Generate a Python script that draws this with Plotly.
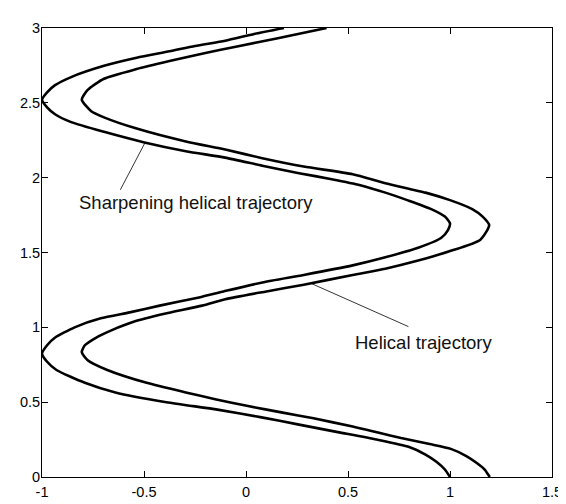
import plotly.graph_objects as go

# Sharpening helical trajectory (reaches x=1 at y=0, min x=-1)
sharp_y = [0.00, 0.05, 0.10, 0.15, 0.20, 0.25, 0.30, 0.35, 0.40, 0.45, 0.50, 0.565, 0.63, 0.715, 0.77, 0.823,
           0.88, 0.93, 1.00, 1.06, 1.10, 1.145, 1.20, 1.24, 1.30, 1.35, 1.414, 1.468, 1.532, 1.597, 1.65, 1.694,
           1.74, 1.79, 1.85, 1.90, 1.95, 1.99, 2.03, 2.08, 2.134, 2.177, 2.237, 2.306, 2.371, 2.424, 2.47, 2.521,
           2.57, 2.618, 2.672, 2.747, 2.801, 2.844, 2.88, 2.915, 2.96, 3.00]
sharp_x = [1.000, 0.975, 0.935, 0.880, 0.800, 0.640, 0.450, 0.260, 0.070, -0.140, -0.390, -0.640, -0.790, -0.929, -0.975, -1.000,
           -0.975, -0.937, -0.840, -0.712, -0.570, -0.423, -0.230, -0.110, 0.080, 0.283, 0.523, 0.683, 0.844, 0.956, 0.990, 1.000,
           0.975, 0.908, 0.790, 0.683, 0.560, 0.420, 0.260, 0.080, -0.102, -0.295, -0.503, -0.696, -0.857, -0.936, -0.975, -1.000,
           -0.975, -0.936, -0.857, -0.696, -0.536, -0.375, -0.250, -0.102, 0.040, 0.186]

# Helical trajectory (reaches x=1.2 at y=0, min x=-0.8)
helical_y = [0.00, 0.05, 0.092, 0.14, 0.188, 0.22, 0.26, 0.295, 0.337, 0.392, 0.43, 0.474, 0.52, 0.565, 0.629, 0.715,
             0.78, 0.834, 0.88, 0.93, 0.98, 1.037, 1.09, 1.145, 1.188, 1.24, 1.285, 1.35, 1.392, 1.446, 1.511, 1.586,
             1.683, 1.74, 1.79, 1.85, 1.90, 1.963, 2.023, 2.074, 2.13, 2.188, 2.242, 2.328, 2.403, 2.446, 2.521,
             2.586, 2.661, 2.726, 2.779, 2.833, 2.875, 2.93, 3.00]
helical_x = [1.195, 1.170, 1.133, 1.080, 1.004, 0.900, 0.760, 0.652, 0.523, 0.331, 0.180, 0.010, -0.151, -0.295, -0.487, -0.680,
             -0.776, -0.805, -0.790, -0.736, -0.660, -0.551, -0.400, -0.215, -0.102, 0.100, 0.283, 0.523, 0.683, 0.844, 1.004, 1.149,
             1.192, 1.160, 1.109, 1.000, 0.880, 0.683, 0.523, 0.283, 0.080, -0.102, -0.295, -0.536, -0.696, -0.760, -0.805,
             -0.776, -0.696, -0.536, -0.375, -0.199, -0.050, 0.150, 0.395]

x_ticks = [-1, -0.5, 0, 0.5, 1, 1.5]
x_tick_labels = ["-1", "-0.5", "0", "0.5", "1", "1.5"]
y_ticks = [0, 0.5, 1, 1.5, 2, 2.5, 3]
y_tick_labels = ["0", "0.5", "1", "1.5", "2", "2.5", "3"]

labels = ["Sharpening helical trajectory", "Helical trajectory"]
label_pos_x = [-0.245, 0.869]
label_pos_y = [1.834, 0.898]
pointer_from = [(-0.616, 1.919), (0.796, 1.005)]
pointer_to = [(-0.496, 2.231), (0.315, 1.296)]

FONT = "Liberation Sans, Arial, sans-serif"

fig = go.Figure()
fig.add_trace(go.Scatter(x=sharp_x, y=sharp_y, mode="lines", name=labels[0],
                         line=dict(color="black", width=2.6, shape="spline", smoothing=0.6)))
fig.add_trace(go.Scatter(x=helical_x, y=helical_y, mode="lines", name=labels[1],
                         line=dict(color="black", width=2.6, shape="spline", smoothing=0.6)))

for (x0, y0), (x1, y1) in zip(pointer_from, pointer_to):
    fig.add_trace(go.Scatter(x=[x0, x1], y=[y0, y1], mode="lines", showlegend=False,
                             line=dict(color="black", width=0.8)))

for t, lx, ly in zip(labels, label_pos_x, label_pos_y):
    fig.add_annotation(x=lx, y=ly, text=t, showarrow=False,
                       font=dict(family=FONT, size=18.5, color="#111111"))

axis_common = dict(showgrid=False, zeroline=False, showline=True, linecolor="black", linewidth=1,
                   mirror="ticks", ticks="inside", ticklen=6, tickcolor="black", tickwidth=1,
                   tickfont=dict(family=FONT, size=14.5, color="black"))
fig.update_xaxes(range=[-1, 1.5], tickvals=x_ticks, ticktext=x_tick_labels, ticklabelstandoff=2, **axis_common)
fig.update_yaxes(range=[0, 3], tickvals=y_ticks, ticktext=y_tick_labels, ticklabelstandoff=-2, **axis_common)

fig.update_layout(width=566, height=504, showlegend=False,
                  margin=dict(l=34, r=13, t=12, b=26, pad=0),
                  plot_bgcolor="white", paper_bgcolor="white")

fig.write_html("out.html")
